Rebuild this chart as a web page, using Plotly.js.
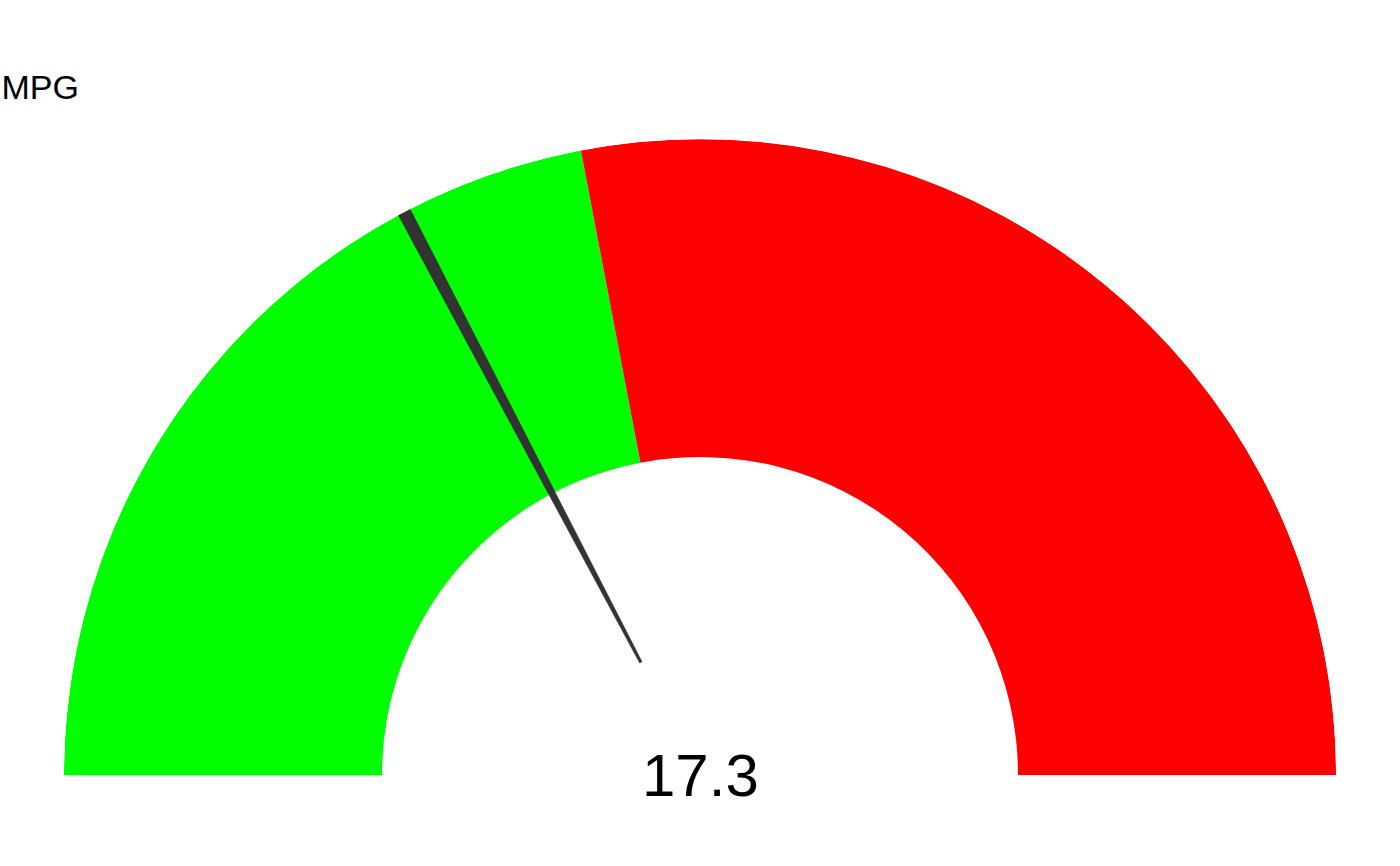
<!DOCTYPE html>
<html>
<head>
<meta charset="utf-8">
<script src="https://cdn.plot.ly/plotly-3.0.1.min.js"></script>
<style>
  html, body { margin: 0; padding: 0; background: #fff; }
  #gauge { width: 1400px; height: 866px; }
</style>
</head>
<body>
<div id="gauge"></div>
<script>
// gauge data
const gaugeLabel = "MPG";
const gaugeMin = 0;
const gaugeMax = 50;
const bandStarts = [0, 22];
const bandEnds = [22, 50];
const bandColors = ["#00ff00", "#ff0000"];
const needleValue = 17.3;

// value -> angle along the half circle (degrees, 0 = left end)
function toTheta(v) {
  return (v - gaugeMin) / (gaugeMax - gaugeMin) * 180;
}

const bands = {
  type: "barpolar",
  theta: bandStarts.map((s, i) => (toTheta(s) + toTheta(bandEnds[i])) / 2),
  width: bandStarts.map((s, i) => toTheta(bandEnds[i]) - toTheta(s)),
  r: bandStarts.map(() => 0.5),
  base: bandStarts.map(() => 0.5),
  marker: { color: bandColors, line: { width: 0 } },
  hoverinfo: "skip",
  showlegend: false,
};

// needle: thin wedge from r=0.2 out to the rim
const nt = toTheta(needleValue);
const halfW = 0.6;
const needle = {
  type: "scatterpolar",
  mode: "lines",
  r: [0.2, 1, 1, 0.2, 0.2],
  theta: [nt - halfW, nt - halfW, nt + halfW, nt + halfW, nt - halfW],
  fill: "toself",
  fillcolor: "#333333",
  line: { color: "#333333", width: 0.5 },
  hoverinfo: "skip",
  showlegend: false,
};

const layout = {
  width: 1400,
  height: 866,
  margin: { t: 0, r: 0, b: 0, l: 0 },
  paper_bgcolor: "#ffffff",
  font: { family: "Liberation Sans, Arial, sans-serif", color: "#000" },
  showlegend: false,
  title: {
    text: gaugeLabel,
    font: { size: 34, color: "#000" },
    xref: "paper",
    yref: "paper",
    x: 0.001,
    xanchor: "left",
    y: 0.9,
    yanchor: "middle",
  },
  polar: {
    domain: { x: [64 / 1400, 1336 / 1400], y: [91 / 866, 727 / 866] },
    sector: [0, 180],
    bgcolor: "rgba(0,0,0,0)",
    bargap: 0,
    radialaxis: { range: [0, 1], visible: false },
    angularaxis: {
      rotation: 180,
      direction: "clockwise",
      thetaunit: "degrees",
      visible: false,
    },
  },
  annotations: [
    {
      text: needleValue.toString(),
      xref: "paper",
      yref: "paper",
      x: 0.5,
      y: 91 / 866,
      xanchor: "center",
      yanchor: "middle",
      showarrow: false,
      font: { size: 60, color: "#000" },
    },
  ],
};

Plotly.newPlot("gauge", [bands, needle], layout, { displayModeBar: false, staticPlot: true });
</script>
</body>
</html>
